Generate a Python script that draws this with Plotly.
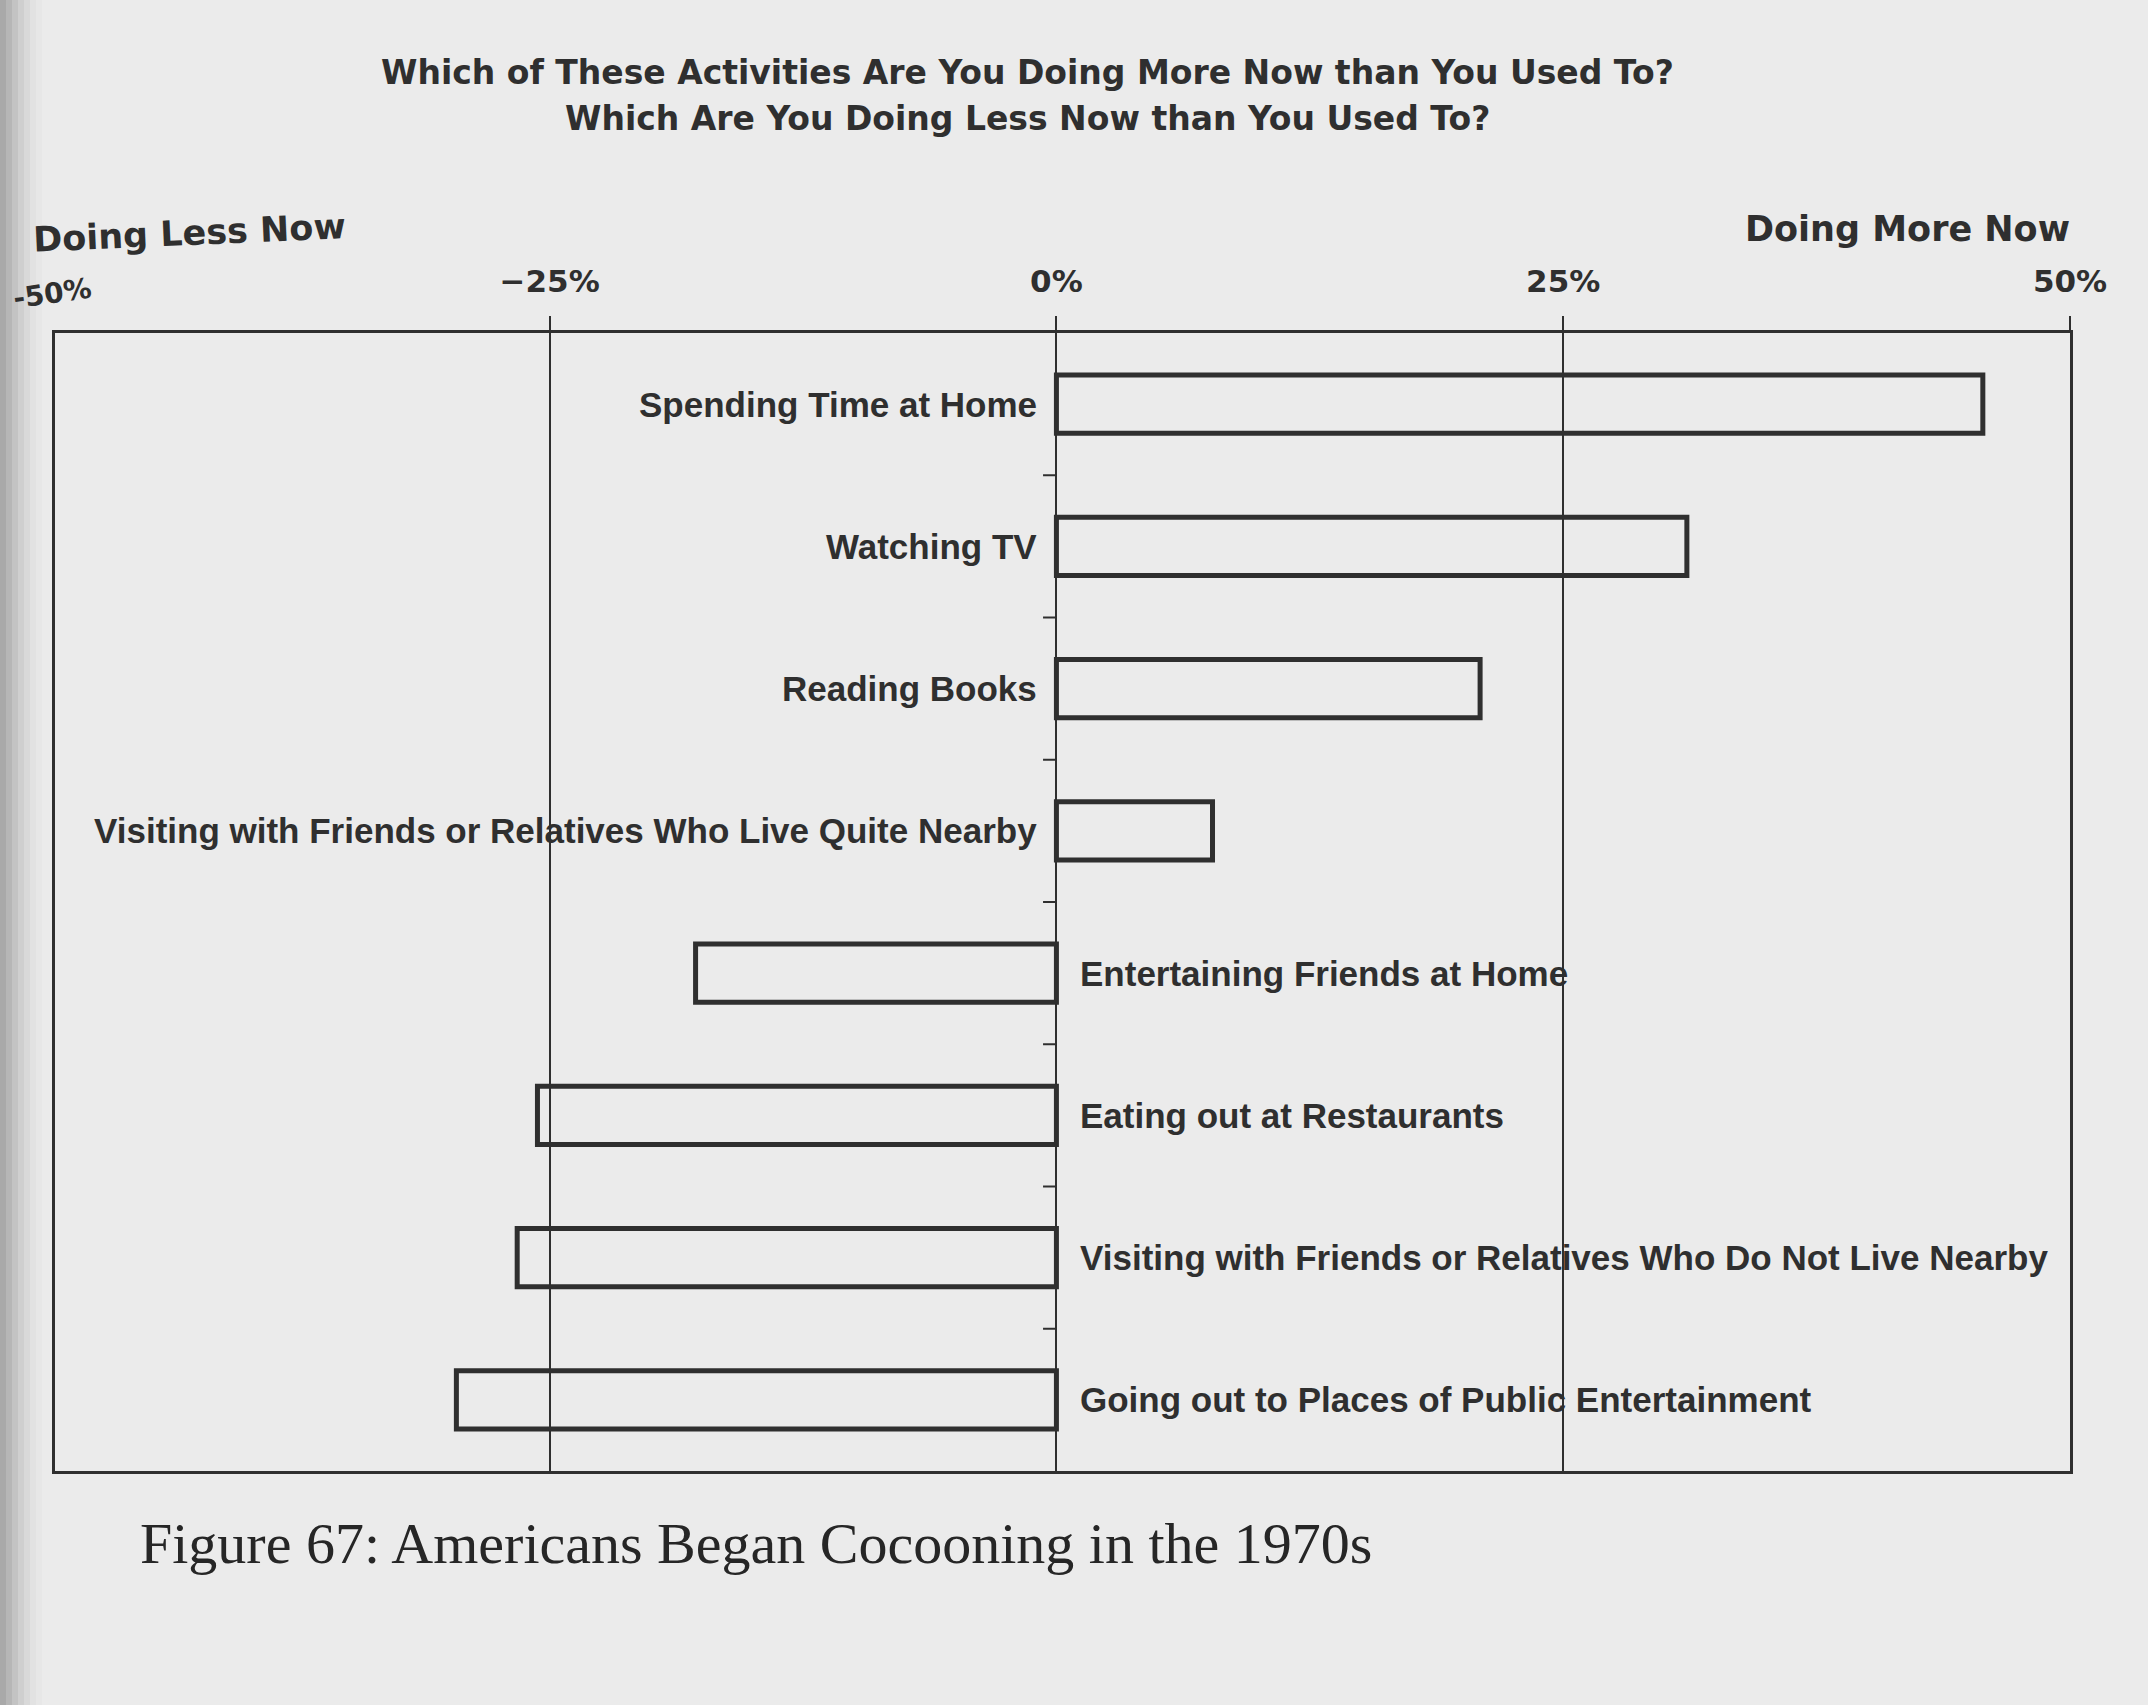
import plotly.graph_objects as go

# ---------------- data ----------------
categories = [
    "Spending Time at Home",
    "Watching TV",
    "Reading Books",
    "Visiting with Friends or Relatives Who Live Quite Nearby",
    "Entertaining Friends at Home",
    "Eating out at Restaurants",
    "Visiting with Friends or Relatives Who Do Not Live Nearby",
    "Going out to Places of Public Entertainment",
]
values = [45.7, 31.1, 20.9, 7.7, -17.8, -25.6, -26.6, -29.6]

tick_vals = [-25, 0, 25, 50]
tick_text = ["\u221225%", "0%", "25%", "50%"]

title_lines = [
    "Which of These Activities Are You Doing More Now than You Used To?",
    "Which Are You Doing Less Now than You Used To?",
]
left_header = "Doing Less Now"
right_header = "Doing More Now"
left_end_label = "-50%"
caption = "Figure 67: Americans Began Cocooning in the 1970s"

# ---------------- layout geometry ----------------
W, H = 2148, 1705
L, R, T, B = 55, 2070, 333, 1471
INK = "#2f2f2f"
BG = "#ebebeb"
SANS_B = "DejaVu Sans"
LAB = "Liberation Sans"


def px_x(p):
    return (p - L) / (R - L)


def px_y(p):
    return (B - p) / (B - T)


fig = go.Figure()
fig.add_trace(
    go.Bar(
        x=values,
        y=categories,
        orientation="h",
        width=0.41,
        marker=dict(color="rgba(0,0,0,0)", line=dict(color=INK, width=5)),
        hoverinfo="x+y",
        showlegend=False,
    )
)

annotations = []
# category labels next to the 0% line
for cat, v in zip(categories, values):
    if v >= 0:
        annotations.append(dict(x=0, y=cat, xref="x", yref="y", text=cat,
                                xanchor="right", yanchor="middle", xshift=-17,
                                showarrow=False,
                                font=dict(family=LAB, size=35, color=INK, weight="bold")))
    else:
        annotations.append(dict(x=0, y=cat, xref="x", yref="y", text=cat,
                                xanchor="left", yanchor="middle", xshift=22,
                                showarrow=False,
                                font=dict(family=LAB, size=35, color=INK, weight="bold")))

# title
for line, ypix in zip(title_lines, [72, 118]):
    annotations.append(dict(x=px_x(1027), y=px_y(ypix), xref="paper", yref="paper",
                            text=line, showarrow=False, xanchor="center", yanchor="middle",
                            font=dict(family=SANS_B, size=33, color=INK, weight="bold")))

annotations.append(dict(x=px_x(189), y=px_y(233), xref="paper", yref="paper",
                        text=left_header, showarrow=False, xanchor="center", yanchor="middle",
                        textangle=-2.5,
                        font=dict(family=SANS_B, size=35, color=INK, weight="bold")))
annotations.append(dict(x=px_x(2072), y=px_y(229), xref="paper", yref="paper",
                        text=right_header, showarrow=False, xanchor="right", yanchor="middle",
                        font=dict(family=SANS_B, size=35, color=INK, weight="bold")))
annotations.append(dict(x=px_x(52), y=px_y(293), xref="paper", yref="paper",
                        text=left_end_label, showarrow=False, xanchor="center", yanchor="middle",
                        textangle=-8,
                        font=dict(family=SANS_B, size=28, color=INK, weight="bold")))
annotations.append(dict(x=px_x(138), y=px_y(1543), xref="paper", yref="paper",
                        text=caption, showarrow=False, xanchor="left", yanchor="middle",
                        font=dict(family="Liberation Serif", size=58, color="#262626")))

shapes = []
# small boundary ticks on the left of the 0% line
for i in range(len(categories) - 1):
    shapes.append(dict(type="line", xref="x", yref="y", x0=-0.66, x1=0,
                       y0=i + 0.5, y1=i + 0.5, line=dict(color=INK, width=2)))

# page gutter shadow on the left edge
shade = ["#a9a9a9", "#b6b6b6", "#c3c3c3", "#cfcfcf", "#d9d9d9", "#e2e2e2", "#e7e7e7"]
for k, c in enumerate(shade):
    shapes.append(dict(type="rect", xref="paper", yref="paper",
                       x0=px_x(k * 6), x1=px_x(k * 6 + 6), y0=px_y(H), y1=px_y(0),
                       fillcolor=c, line=dict(width=0), layer="below"))

fig.update_layout(
    width=W, height=H,
    margin=dict(l=L, r=W - R, t=T, b=H - B, pad=0),
    paper_bgcolor=BG, plot_bgcolor=BG,
    bargap=0.59,
    annotations=annotations,
    shapes=shapes,
    showlegend=False,
)
fig.update_xaxes(
    range=[-49.4, 50], side="top",
    tickvals=tick_vals, ticktext=tick_text,
    ticks="outside", ticklen=14, tickwidth=2, tickcolor=INK,
    ticklabelstandoff=12,
    tickfont=dict(family=SANS_B, size=31, color=INK, weight="bold"),
    showgrid=True, gridcolor=INK, gridwidth=2,
    showline=True, linecolor=INK, linewidth=2.5, mirror=True,
    zeroline=False, fixedrange=True,
)
fig.update_yaxes(
    categoryorder="array", categoryarray=categories,
    range=[len(categories) - 0.5, -0.5],
    showticklabels=False, ticks="",
    showgrid=False, zeroline=False,
    showline=True, linecolor=INK, linewidth=2.5, mirror=True,
    fixedrange=True,
)

fig.write_html(
    "out.html",
    config={"displayModeBar": False},
    post_script="document.body.style.margin='0';document.body.style.overflow='hidden';",
)
